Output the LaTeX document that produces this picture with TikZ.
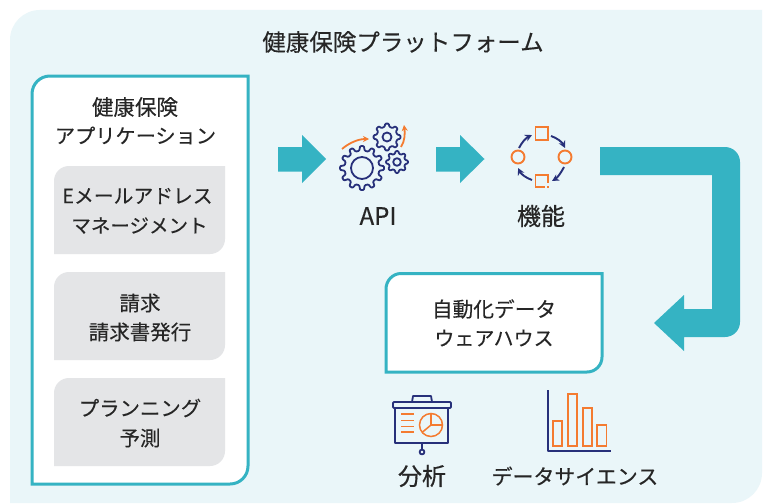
\documentclass[tikz,border=0pt]{standalone}
\usepackage{fontspec}
\setmainfont{Noto Sans CJK JP}
\newfontfamily\medf[FakeBold=0.15]{Noto Sans CJK JP}
\newfontfamily\semf[FakeBold=0.45]{Noto Sans CJK JP}
\usetikzlibrary{arrows.meta}
\definecolor{bgc}{HTML}{EAF6F9}
\definecolor{tealc}{HTML}{35B3C3}
\definecolor{gbox}{HTML}{E4E5E7}
\definecolor{navy}{HTML}{27307A}
\definecolor{orng}{HTML}{F47B30}
\definecolor{txt}{HTML}{262626}
\newcommand{\fs}[1]{\fontsize{#1}{29}\selectfont}
\tikzset{
 lab/.style={text=txt,inner sep=0pt,font=\medf\fs{#1}},
 strong/.style={text=txt,inner sep=0pt,font=\semf\fs{#1}},
 ic/.style={line width=1.8pt,draw=navy,line join=round},
 ico/.style={line width=1.9pt,draw=orng},
 arrn/.style={line width=1.9pt,draw=navy,-{Stealth[length=7pt,width=7pt]}},
 arro/.style={line width=1.8pt,draw=orng,-{Stealth[length=6pt,width=6pt]}},
 frame/.style={fill=white,draw=tealc,line width=3pt},
}
% centre x, centre y, outer radius, root radius, teeth, hub radius
\newcommand{\mygear}[6]{%
 \pgfmathsetmacro{\gs}{360/#5}
 \draw[ic,rounded corners=0.8pt] \foreach \gi in {1,...,#5}{
  \ifnum\gi=1 ({#1+#4*cos(\gi*\gs-0.30*\gs)},{#2+#4*sin(\gi*\gs-0.30*\gs)}) \else -- ({#1+#4*cos(\gi*\gs-0.30*\gs)},{#2+#4*sin(\gi*\gs-0.30*\gs)}) \fi
  -- ({#1+#3*cos(\gi*\gs-0.16*\gs)},{#2+#3*sin(\gi*\gs-0.16*\gs)})
  -- ({#1+#3*cos(\gi*\gs+0.16*\gs)},{#2+#3*sin(\gi*\gs+0.16*\gs)})
  -- ({#1+#4*cos(\gi*\gs+0.30*\gs)},{#2+#4*sin(\gi*\gs+0.30*\gs)})
 } -- cycle;
 \draw[ic] (#1,#2) circle[radius=#6pt];
}
\begin{document}
\begin{tikzpicture}[x=1pt,y=-1pt]
\useasboundingbox (0,0) rectangle (767,503);
\fill[white] (0,0) rectangle (767,503);
% background
\fill[bgc] (10,503) -- (10,40) .. controls (10,23.4) and (23.4,10) .. (40,10) -- (762,10) -- (762,473) .. controls (762,489.6) and (748.6,503) .. (732,503) -- cycle;
\node[lab=23.5] (title) at (403,42) {健康保険プラットフォーム};

% application frame
\path[frame] (32,484) -- (32,94) .. controls (32,84) and (40,76) .. (50,76) -- (248,76) -- (248,466) .. controls (248,476) and (240,484) .. (230,484) -- cycle;
\node[lab=21.5] (app1) at (135,107) {健康保険};
\node[lab=20.2] (app2) at (135.5,135.5) {アプリケーション};
\foreach \yy in {166,272,378}{
 \fill[gbox] (54,\yy+88) -- (54,\yy+15) .. controls (54,\yy+6.7) and (60.7,\yy) .. (69,\yy) -- (225,\yy) -- (225,\yy+73) .. controls (225,\yy+81.3) and (218.3,\yy+88) .. (210,\yy+88) -- cycle;
}
\node[lab=19.8] (g1a) at (137.5,196) {Eメールアドレス};
\node[lab=19.5] (g1b) at (139.5,225.5) {マネージメント};
\node[lab=20.5] (g2a) at (140,303) {請求};
\node[lab=20.5] (g2b) at (140,332) {請求書発行};
\node[lab=20.4] (g3a) at (140,408) {プランニング};
\node[lab=20.5] (g3b) at (140,438) {予測};

% block arrows
\fill[tealc] (278,147) -- (302,147) -- (302,135) -- (326,159) -- (302,183) -- (302,171.5) -- (278,171.5) -- cycle;
\fill[tealc] (436,147) -- (460,147) -- (460,135) -- (484.5,159) -- (460,183) -- (460,171.5) -- (436,171.5) -- cycle;
\fill[tealc] (600,147) -- (725,147) .. controls (733.3,147) and (740,153.7) .. (740,162) -- (740,322) .. controls (740,330.3) and (733.3,337) .. (725,337) -- (684,337) -- (684,351) -- (654,323) -- (684,295) -- (684,309) -- (712,309) -- (712,175) -- (600,175) -- cycle;

% gears
\mygear{362}{168}{22}{17.5}{12}{11}
\mygear{387}{137}{13.5}{10.5}{8}{4.5}
\mygear{397}{162}{11}{8.5}{8}{3.8}
\draw[arro] (342,149) .. controls (349,143) and (358,139) .. (369,139);
\draw[arro] (401,147) .. controls (405,141) and (405,133) .. (404,125);
\node[strong=24] (api) at (378,216) {API};

% cycle icon
\draw[ico] (535.5,127) rectangle (548,140);
\draw[ico] (548,183) -- (548,175) -- (535.5,175) -- (535.5,187) -- (545,187);
\fill[orng] (547,186) rectangle (548.5,187.5);
\draw[ico] (518,157) circle[radius=6.5pt];
\draw[ico] (565,157) circle[radius=6.5pt];
\draw[arrn] (519,148) .. controls (522,142) and (526,138) .. (532,135);
\draw[arrn] (551,136) .. controls (557,138) and (562,142) .. (565,148);
\draw[arrn] (564,167) .. controls (561,173) and (557,178) .. (552,181);
\draw[arrn] (532,180) .. controls (526,178) and (521,174) .. (518,168);
\node[strong=24] (func) at (541,216) {機能};

% warehouse box
\path[frame] (386,372) -- (386,289) .. controls (386,280.7) and (392.7,273.5) .. (401,273.5) -- (602,273.5) -- (602,357) .. controls (602,365.3) and (595.3,372) .. (587,372) -- cycle;
\node[lab=20.7] (dw1) at (494,309) {自動化データ};
\node[lab=20] (dw2) at (494,338) {ウェアハウス};

% presentation icon
\draw[ic] (412,402) -- (413,396) -- (431,396) -- (432,402);
\draw[ic,rounded corners=1pt] (393,402) rectangle (451,408);
\draw[ic] (395,408) -- (395,443) -- (448,443) -- (448,408);
\draw[ic] (422,443) -- (422,449.5);
\draw[ic] (422,452) circle[radius=2.4pt];
\foreach \yy in {414,420.5,426.5,432}{\draw[ico,line width=1.4pt] (401,\yy) -- (414,\yy);}
\draw[ico,line width=1.5pt] (431,425) circle[radius=11.5pt];
\draw[ico,line width=1.5pt] (431,413.5) -- (431,425) -- (442.5,425);
\draw[ico,line width=1.5pt] (431,425) -- (422,432.5);
\node[strong=24] (an) at (422,476) {分析};

% bar chart
\draw[ic] (548,390) -- (548,451) -- (611,451);
\foreach \xa/\xb/\yt in {553/562/421,568/577/394,583/592/408,597/606.5/425}{
 \draw[ico,line width=1.7pt] (\xa,\yt) rectangle (\xb,446);
}
\node[strong=20.9] (ds) at (575,476) {データサイエンス};
\end{tikzpicture}
\end{document}
